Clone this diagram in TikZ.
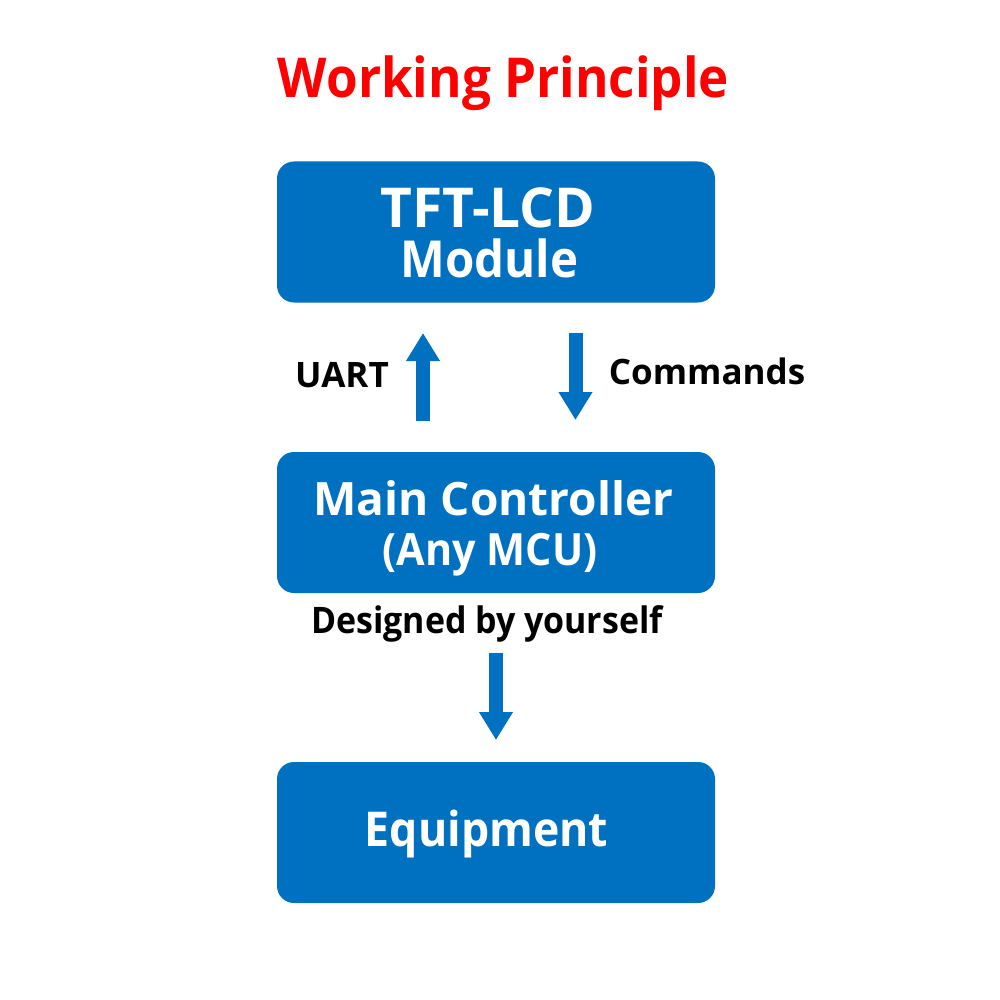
\documentclass[tikz,border=0pt]{standalone}
\usepackage{fontspec}
\setmainfont{Open Sans}[BoldFont={Open Sans Bold}]
\newfontfamily\narrowfont{Open Sans Bold}[FakeStretch=0.93]
\usetikzlibrary{arrows.meta}
\definecolor{boxblue}{RGB}{0,112,192}
\definecolor{titlered}{RGB}{255,0,0}
\tikzset{
  blockbox/.style={fill=boxblue, draw=none, rounded corners=17pt,
    minimum width=438pt, minimum height=141pt, inner sep=0pt},
  lbl/.style={text=black, inner sep=0pt, anchor=base},
  wlbl/.style={lbl, text=white},
  blockarrow/.style={draw=boxblue, line width=14pt,
    -{Triangle[width=32pt,length=28pt]}},
}
\begin{document}
\begin{tikzpicture}[x=1pt,y=-1pt]
\useasboundingbox (0,0) rectangle (1000,1000);
\node[lbl, text=titlered, font=\narrowfont\fontsize{55}{60}\selectfont] (title) at (503.5,98) {Working Principle};
\node[blockbox] (tft) at (496,232) {};
\node[blockbox] (mcu) at (496,522.5) {};
\node[blockbox] (equip) at (496,832.5) {};
\node[wlbl, font=\bfseries\fontsize{55}{60}\selectfont] (tft1) at (488,228) {TFT-LCD};
\node[wlbl, font=\narrowfont\fontsize{51}{56}\selectfont] (tft2) at (489.5,277) {Module};
\node[wlbl, font=\bfseries\fontsize{46}{50}\selectfont] (mcu1) at (493.5,515) {Main Controller};
\node[wlbl, font=\narrowfont\fontsize{44.5}{50}\selectfont] (mcu2) at (490,565) {(Any MCU)};
\node[wlbl, font=\narrowfont\fontsize{48}{54}\selectfont] (equip1) at (486.5,846) {Equipment};
\node[lbl, font=\bfseries\fontsize{35}{40}\selectfont] (uart) at (342,387) {UART};
\node[lbl, font=\bfseries\fontsize{35}{40}\selectfont] (cmd) at (707,384) {Commands};
\node[lbl, font=\narrowfont\fontsize{36.5}{44}\selectfont] (design) at (487,633) {Designed by yourself};
\coordinate (a1s) at (423,421);
\coordinate (a1e) at (423,333);
\coordinate (a2s) at (575.5,333);
\coordinate (a2e) at (575.5,420);
\coordinate (a3s) at (496,653);
\coordinate (a3e) at (496,740);
\draw[blockarrow] (a1s) -- (a1e);
\draw[blockarrow] (a2s) -- (a2e);
\draw[blockarrow] (a3s) -- (a3e);
\end{tikzpicture}
\end{document}
